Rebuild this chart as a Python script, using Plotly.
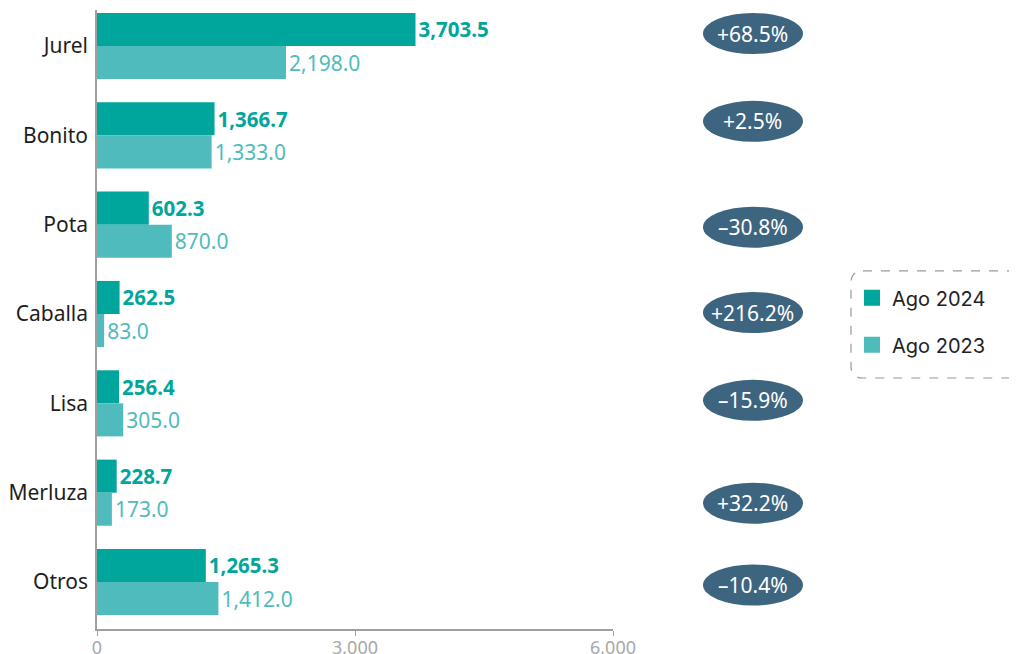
import plotly.graph_objects as go

# ---- data ----
categories = ["Jurel", "Bonito", "Pota", "Caballa", "Lisa", "Merluza", "Otros"]
ago_2024 = [3703.5, 1366.7, 602.3, 262.5, 256.4, 228.7, 1265.3]
ago_2023 = [2198.0, 1333.0, 870.0, 83.0, 305.0, 173.0, 1412.0]
pct_change = [68.5, 2.5, -30.8, 216.2, -15.9, 32.2, -10.4]
x_ticks = [0, 3000, 6000]
series_names = ["Ago 2024", "Ago 2023"]

# ---- style ----
C_2024 = "#00A69C"
C_2023 = "#4FBBBD"
C_BADGE = "#3E6580"
FONT = "Noto Sans"
badge_offset_px = [-12.5, -14, 2.5, -1.5, -3, 10.5, 3]   # screen offset (down +)
BADGE_X = 1.2713   # paper x of badge centre

fig = go.Figure()
fig.add_trace(go.Bar(
    y=categories, x=ago_2024, name=series_names[0], orientation="h",
    marker=dict(color=C_2024, line=dict(width=0)),
    texttemplate="%{x:,.1f}", textposition="outside", cliponaxis=False,
    textfont=dict(family=FONT, size=20.5, color=C_2024, weight="bold"),
    showlegend=False, hoverinfo="skip",
))
fig.add_trace(go.Bar(
    y=categories, x=ago_2023, name=series_names[1], orientation="h",
    marker=dict(color=C_2023, line=dict(width=0)),
    texttemplate="%{x:,.1f}", textposition="outside", cliponaxis=False,
    textfont=dict(family=FONT, size=21, color=C_2023),
    showlegend=False, hoverinfo="skip",
))
# legend entries (square swatches)
for name, col, grp in [(series_names[0], C_2024, "a"), (series_names[1], C_2023, "b")]:
    fig.add_trace(go.Scatter(
        x=[None], y=[None], mode="markers", name=name, legendgroup=grp,
        marker=dict(symbol="square", size=18, color=col),
        showlegend=True, hoverinfo="skip",
    ))

shapes = []
annotations = []
for i, (cat, p) in enumerate(zip(categories, pct_change)):
    off = -badge_offset_px[i]
    shapes.append(dict(
        type="circle", xref="paper", yref="y",
        xsizemode="pixel", ysizemode="pixel",
        xanchor=BADGE_X, yanchor=i,
        x0=-50, x1=50, y0=off - 20.5, y1=off + 20.5,
        fillcolor=C_BADGE, line=dict(width=0), layer="above",
    ))
    sign = "+" if p >= 0 else "–"
    annotations.append(dict(
        x=BADGE_X, xref="paper", xanchor="center", y=cat, yref="y",
        yanchor="middle", yshift=off,
        text=f"{sign}{abs(p):.1f}%", showarrow=False,
        font=dict(family=FONT, size=21, color="white"),
    ))

# dashed rounded legend frame (paper coords)
x0, x1 = 1.4612, 1.82
yt, yb = 0.5784, 0.4055
dx, dy = 0.0233, 0.0194
path = (f"M {x0+dx},{yt} L {x1},{yt} L {x1},{yb} L {x0+dx},{yb} "
        f"Q {x0},{yb} {x0},{yb+dy} L {x0},{yt-dy} Q {x0},{yt} {x0+dx},{yt} Z")
shapes.append(dict(type="path", xref="paper", yref="paper", path=path,
                   line=dict(color="#9a9a9a", width=1.2, dash="dash"),
                   fillcolor="rgba(0,0,0,0)"))

# page body adds an 8px offset, so margins are reduced accordingly
fig.update_layout(
    width=1017, height=654,
    margin=dict(l=89, r=412, t=2, b=33, autoexpand=False),
    plot_bgcolor="white", paper_bgcolor="white",
    barmode="group", bargap=0.26, bargroupgap=0,
    showlegend=True,
    legend=dict(x=1.4632, xanchor="left", y=0.497, yanchor="middle",
                font=dict(family="Inter", size=20, color="#222222"),
                tracegroupgap=18, bgcolor="rgba(0,0,0,0)", traceorder="grouped"),
    shapes=shapes, annotations=annotations,
    xaxis=dict(range=[0, 6000], tickvals=x_ticks, tickformat=",",
               showgrid=False, zeroline=False, showline=True, automargin=False,
               linecolor="#a0a0a0", linewidth=1.5, ticks="outside",
               ticklen=5, tickcolor="#a0a0a0", ticklabelstandoff=-3,
               tickfont=dict(family=FONT, size=18, color="#a8a8a8")),
    yaxis=dict(categoryorder="array", categoryarray=categories,
               range=[6.526, -0.403], showgrid=False, zeroline=False,
               showline=True, linecolor="#a0a0a0", linewidth=1.5, automargin=False,
               ticks="outside", ticklen=3, tickcolor="rgba(0,0,0,0)",
               tickfont=dict(family=FONT, size=21, color="#1e1e1e")),
)

fig.write_html("out.html")
